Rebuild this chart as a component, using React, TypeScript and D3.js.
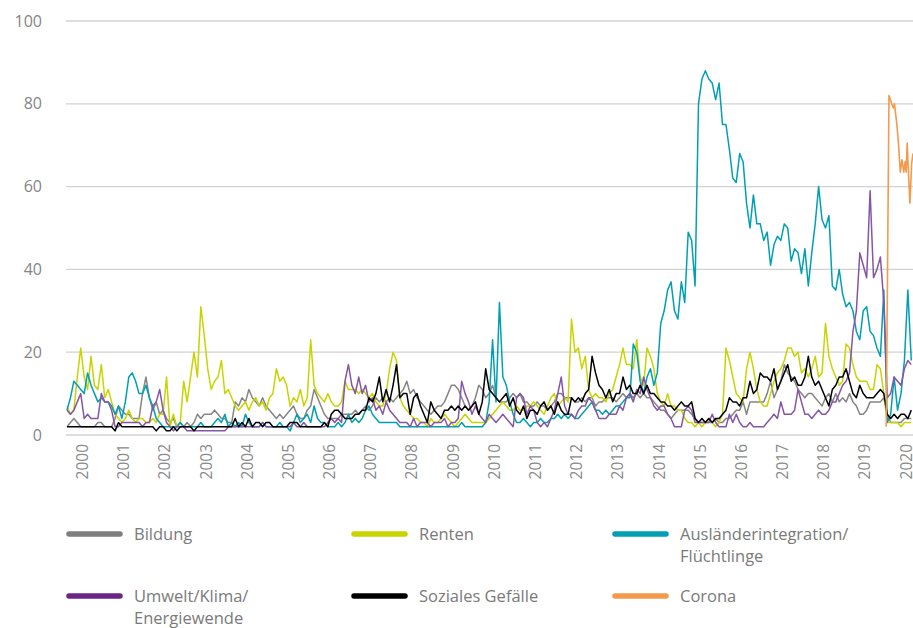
import * as d3 from "d3";

const chartWidth = 913;
const chartHeight = 628;
const plotLeft = 66;
const plotRight = 913;
const plotTop = 21;
const plotBottom = 435;

// survey index 0 = first point; years start at index 4.66
const firstYearIndex = 4.66;
const lastIndex = 246.5;
const yearLabels = ["2000", "2001", "2002", "2003", "2004", "2005", "2006", "2007", "2008", "2009", "2010", "2011", "2012", "2013", "2014", "2015", "2016", "2017", "2018", "2019", "2020"];
const yTicks = [0, 20, 40, 60, 80, 100];

const bildung = [
  2, 3, 4, 3, 2, 2, 2, 2, 2, 3, 3, 2,
  2, 2, 4, 7, 6, 5, 5, 4, 4, 4, 10, 14,
  9, 6, 8, 5, 6, 4, 3, 4, 2, 3, 2, 3,
  2, 3, 5, 4, 5, 5, 5, 6, 5, 4, 4, 3,
  3, 8, 7, 9, 8, 11, 9, 8, 7, 9, 7, 6,
  5, 4, 5, 4, 5, 6, 7, 5, 4, 4, 6, 7,
  11, 9, 7, 5, 4, 4, 4, 4, 5, 5, 5, 5,
  6, 5, 6, 7, 6, 7, 9, 8, 9, 8, 9, 8,
  9, 10, 11, 13, 10, 11, 9, 8, 7, 6, 5, 6,
  7, 7, 8, 10, 12, 12, 11, 9, 7, 6, 7, 9,
  12, 11, 9, 10, 12, 9, 8, 8, 8, 9, 10, 9,
  10, 8, 8, 7, 7, 8, 7, 7, 6, 7, 8, 10,
  10, 9, 9, 9, 8, 8, 9, 8, 9, 9, 7, 8,
  8, 9, 9, 9, 8, 9, 10, 9, 10, 9, 10, 9,
  10, 9, 9, 8, 7, 6, 6, 5, 4, 5, 6, 6,
  6, 6, 5, 4, 3, 3, 3, 3, 3, 4, 3, 3,
  4, 4, 5, 6, 6, 8, 5, 8, 8, 8, 8, 8,
  10, 13, 9, 11, 13, 17, 15, 14, 13, 11, 10, 9,
  10, 10, 9, 8, 7, 9, 10, 8, 10, 8, 9, 8,
  10, 8, 7, 5, 5, 6, 8, 8, 8, 8, 9, 5,
  3, 3, 3, 3, 4, 4, 4,
];

const renten = [
  7, 5, 6, 14, 21, 14, 11, 19, 12, 11, 17, 9,
  11, 8, 5, 4, 3, 4, 6, 4, 3, 4, 4, 3,
  3, 4, 3, 5, 5, 14, 2, 5, 2, 3, 13, 8,
  14, 20, 14, 31, 24, 16, 11, 13, 14, 18, 10, 11,
  9, 7, 6, 7, 8, 6, 8, 9, 7, 8, 6, 9,
  10, 16, 13, 14, 12, 7, 9, 8, 11, 7, 9, 23,
  12, 10, 9, 8, 10, 8, 7, 7, 8, 13, 11, 11,
  11, 10, 11, 10, 9, 10, 8, 7, 7, 10, 16, 20,
  18, 9, 7, 6, 5, 4, 4, 3, 3, 2, 4, 3,
  3, 4, 5, 4, 3, 2, 3, 4, 5, 4, 3, 3,
  3, 3, 3, 4, 5, 6, 7, 8, 7, 6, 6, 7,
  6, 6, 7, 7, 8, 7, 6, 5, 7, 9, 10, 7,
  8, 9, 8, 28, 20, 21, 16, 19, 11, 9, 10, 9,
  9, 8, 10, 11, 14, 17, 21, 17, 17, 16, 23, 14,
  12, 21, 19, 16, 10, 8, 7, 10, 7, 7, 6, 6,
  4, 3, 3, 2, 3, 2, 3, 4, 3, 2, 3, 5,
  21, 18, 14, 10, 9, 8, 16, 20, 16, 11, 8, 7,
  7, 10, 13, 15, 16, 18, 21, 21, 19, 20, 15, 16,
  14, 16, 19, 14, 15, 27, 19, 16, 14, 12, 13, 22,
  21, 17, 14, 13, 13, 13, 11, 11, 17, 16, 10, 3,
  3, 3, 3, 2, 3, 3, 3,
];

const auslaender = [
  6, 9, 13, 12, 11, 10, 15, 12, 10, 8, 9, 8,
  8, 7, 5, 7, 4, 8, 14, 15, 13, 10, 10, 12,
  9, 7, 4, 3, 2, 2, 2, 2, 2, 3, 2, 2,
  2, 2, 2, 3, 2, 2, 2, 3, 4, 3, 5, 2,
  3, 2, 3, 2, 5, 3, 2, 2, 2, 3, 2, 2,
  2, 2, 3, 2, 2, 1, 3, 5, 3, 4, 5, 3,
  7, 4, 3, 3, 2, 2, 2, 3, 2, 3, 5, 3,
  4, 3, 4, 6, 7, 5, 4, 3, 3, 3, 3, 3,
  3, 2, 2, 2, 2, 2, 2, 2, 2, 2, 2, 2,
  2, 2, 2, 2, 2, 2, 2, 3, 2, 2, 2, 2,
  2, 2, 3, 8, 23, 8, 32, 14, 12, 8, 5, 3,
  3, 4, 3, 2, 3, 3, 4, 3, 3, 4, 4, 5,
  4, 5, 4, 5, 4, 4, 5, 6, 7, 8, 6, 6,
  5, 6, 5, 6, 7, 7, 8, 9, 9, 22, 20, 13,
  10, 14, 16, 12, 15, 27, 30, 35, 37, 30, 28, 37,
  32, 49, 47, 36, 80, 86, 88, 86, 85, 81, 85, 75,
  75, 69, 62, 61, 68, 66, 56, 50, 58, 51, 51, 47,
  49, 41, 46, 48, 47, 51, 50, 42, 45, 44, 39, 45,
  36, 44, 51, 60, 52, 50, 53, 36, 35, 40, 34, 31,
  32, 30, 25, 23, 30, 31, 25, 24, 21, 19, 35, 3,
  5, 14, 6, 10, 18, 35, 18,
];

const umwelt = [
  6, 5, 6, 8, 10, 4, 5, 4, 4, 4, 10, 8,
  8, 6, 2, 2, 3, 3, 3, 3, 3, 3, 2, 3,
  3, 7, 8, 11, 6, 3, 2, 1, 2, 2, 2, 1,
  1, 1, 1, 1, 1, 1, 1, 1, 1, 1, 1, 2,
  2, 2, 2, 2, 2, 2, 2, 2, 2, 3, 2, 2,
  2, 2, 2, 2, 2, 2, 3, 2, 2, 3, 2, 2,
  2, 2, 2, 2, 3, 4, 3, 4, 3, 13, 17, 12,
  10, 14, 10, 12, 8, 9, 6, 7, 5, 8, 6, 5,
  4, 3, 3, 3, 2, 4, 2, 3, 3, 3, 2, 3,
  3, 3, 4, 2, 3, 3, 4, 13, 10, 8, 5, 7,
  5, 4, 3, 5, 4, 3, 4, 5, 4, 3, 2, 9,
  10, 9, 5, 7, 6, 3, 2, 3, 2, 4, 6, 10,
  14, 7, 5, 5, 4, 6, 7, 7, 9, 8, 6, 4,
  4, 4, 5, 5, 5, 7, 6, 9, 10, 8, 11, 10,
  14, 11, 9, 7, 6, 7, 7, 5, 4, 2, 2, 2,
  6, 7, 6, 3, 3, 3, 3, 3, 5, 3, 2, 2,
  2, 5, 3, 5, 3, 2, 2, 3, 2, 2, 2, 2,
  3, 4, 5, 4, 8, 5, 5, 5, 6, 11, 8, 5,
  5, 4, 5, 6, 5, 5, 6, 8, 8, 10, 12, 13,
  15, 25, 30, 44, 41, 38, 59, 38, 40, 43, 32, 9,
  10, 14, 13, 12, 16, 18, 17,
];

const soziales = [
  2, 2, 2, 2, 2, 2, 2, 2, 2, 2, 2, 2,
  2, 2, 1, 3, 2, 2, 2, 2, 2, 2, 2, 2,
  2, 2, 1, 2, 2, 1, 1, 2, 1, 2, 2, 2,
  2, 1, 2, 2, 2, 2, 2, 2, 2, 2, 2, 2,
  2, 4, 2, 3, 2, 4, 2, 3, 3, 2, 3, 3,
  2, 2, 2, 2, 2, 3, 3, 3, 2, 2, 2, 2,
  2, 2, 2, 3, 2, 5, 6, 6, 5, 4, 4, 4,
  5, 5, 6, 6, 9, 8, 10, 14, 8, 11, 8, 12,
  17, 9, 10, 10, 5, 9, 10, 7, 5, 3, 8, 6,
  5, 4, 6, 6, 7, 6, 7, 6, 7, 6, 7, 8,
  5, 8, 16, 11, 10, 9, 8, 9, 10, 7, 9, 6,
  5, 7, 4, 6, 6, 5, 7, 8, 6, 7, 5, 8,
  6, 5, 5, 9, 8, 9, 8, 10, 11, 19, 15, 12,
  11, 9, 11, 8, 10, 10, 14, 11, 12, 10, 10, 12,
  10, 12, 10, 10, 9, 8, 8, 7, 7, 6, 7, 8,
  7, 7, 8, 4, 3, 4, 3, 4, 3, 4, 4, 5,
  6, 9, 8, 8, 7, 9, 9, 13, 10, 11, 15, 14,
  14, 13, 16, 11, 13, 15, 17, 13, 14, 12, 12, 14,
  19, 14, 12, 13, 11, 9, 7, 11, 12, 14, 14, 16,
  13, 10, 9, 12, 10, 9, 9, 9, 10, 11, 10, 5,
  4, 5, 4, 5, 5, 4, 6,
];

// Corona is surveyed more often: its own survey positions
const coronaIndex = [238.7, 239.5, 240.3, 240.8, 241.1, 241.8, 242.3, 242.8, 243.3, 243.8, 244.2, 244.5, 244.8, 245.2, 245.6, 246.1, 246.5];
const corona = [2, 82, 80, 79, 80, 75, 70, 63.5, 66.5, 63.5, 66, 63.5, 70.5, 63, 56, 65.5, 68];

const seriesNames = [
  ["Bildung"],
  ["Renten"],
  ["Ausländerintegration/", "Flüchtlinge"],
  ["Umwelt/Klima/", "Energiewende"],
  ["Soziales Gefälle"],
  ["Corona"],
];
const lineColors = ["#858585", "#c8d400", "#00a0b2", "#8655a6", "#000000", "#f39a4c"];
const legendColors = ["#7f7f7f", "#c8d400", "#00a0b2", "#6a2586", "#000000", "#f39a4c"];

// legend slots: 3 columns x 2 rows
const legendColumns = [67, 352, 613];
const legendRows = [534, 596];

const font = "'Open Sans', 'DejaVu Sans', sans-serif";

export default function App() {
  const x = d3.scaleLinear().domain([0, lastIndex]).range([67, plotRight]);
  const y = d3.scaleLinear().domain([0, 100]).range([plotBottom, plotTop]);

  const monthly = d3
    .line<number>()
    .x((_, i) => x(i))
    .y((d) => y(d));
  const dated = d3
    .line<number>()
    .x((_, i) => x(coronaIndex[i]))
    .y((d) => y(d));

  const drawOrder = [
    { values: bildung, color: lineColors[0] },
    { values: renten, color: lineColors[1] },
    { values: auslaender, color: lineColors[2] },
    { values: umwelt, color: lineColors[3] },
    { values: soziales, color: lineColors[4] },
  ];

  return (
    <div style={{ position: "absolute", left: 0, top: 0 }}>
      <svg width={chartWidth} height={chartHeight} viewBox={`0 0 ${chartWidth} ${chartHeight}`} style={{ display: "block", background: "#fff", fontFamily: font }}>
        {yTicks.map((tick) => (
          <g key={`y-${tick}`}>
            <line x1={plotLeft} x2={plotRight} y1={y(tick)} y2={y(tick)} stroke="#d2d2d2" strokeWidth={1.3} />
            <text x={42} y={y(tick)} dy="0.35em" textAnchor="end" fill="#858585" fontSize={16}>
              {tick}
            </text>
          </g>
        ))}

        {yearLabels.map((label, k) => (
          <text
            key={label}
            transform={`translate(${x(firstYearIndex + 12 * k)}, 444) rotate(-90)`}
            dy="0.32em"
            textAnchor="end"
            fill="#8a8a8a"
            fontSize={15.5}
          >
            {label}
          </text>
        ))}

        {drawOrder.map((s, i) => (
          <path key={`line-${i}`} d={monthly(s.values) ?? ""} fill="none" stroke={s.color} strokeWidth={1.5} strokeLinejoin="round" />
        ))}
        <path d={dated(corona) ?? ""} fill="none" stroke={lineColors[5]} strokeWidth={1.6} strokeLinejoin="round" />

        {seriesNames.map((lines, i) => {
          const lx = legendColumns[i % 3];
          const ly = legendRows[Math.floor(i / 3)];
          return (
            <g key={`legend-${i}`}>
              <line x1={lx + 2} x2={lx + 53} y1={ly} y2={ly} stroke={legendColors[i]} strokeWidth={5.5} strokeLinecap="round" />
              <text x={lx + 67} y={ly} fill="#7a7a7a" fontSize={16.5}>
                {lines.map((line, j) => (
                  <tspan key={line} x={lx + 67} dy={j === 0 ? "0.35em" : 22}>
                    {line}
                  </tspan>
                ))}
              </text>
            </g>
          );
        })}
      </svg>
    </div>
  );
}
